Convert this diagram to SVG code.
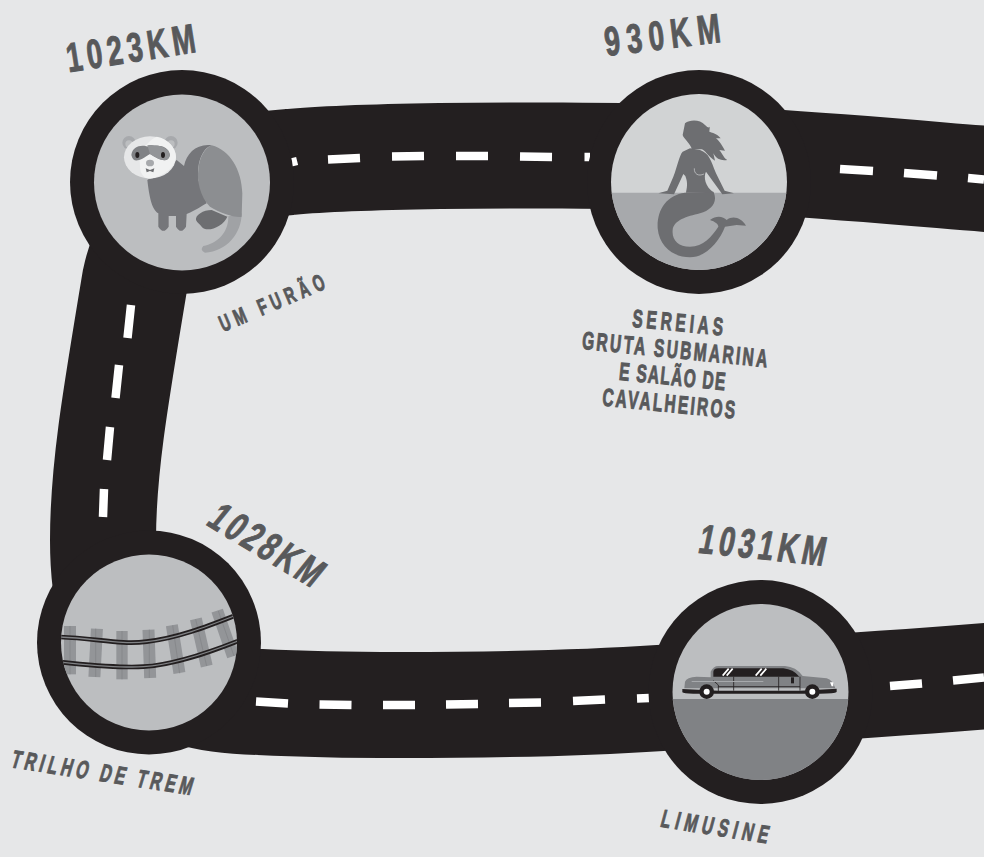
<svg xmlns="http://www.w3.org/2000/svg" width="984" height="857" viewBox="0 0 984 857">
<style>
.road{fill:none;stroke:#231F20;stroke-width:106}
.dash{fill:none;stroke:#fff;stroke-width:8.500}
.ring{fill:#231F20}
.lbl{font-family:"Liberation Sans",Arial,sans-serif;font-weight:700;fill:#58595B;stroke:#58595B;stroke-width:1;text-anchor:middle}
.big{font-size:41px}
.sm{font-size:25px}
</style>
<defs>
<clipPath id="cp-rail"><circle cx="357" cy="337.500" r="264"/></clipPath>
</defs>
<rect width="984" height="857" fill="#E6E7E8"/>
<g id="connectors">
<path class="road" d="M1000,180C900,172 800,163 699,158C620,155 500,155 440,156C380,157 330,158 290,162C200,168 150,210 135,280C115,400 103,470 103,540C103,660 150,700 260,702C320,705 360,705 400,705C500,705 600,702 660,698C760,692 850,687 1000,675"/>
<path class="dash" d="M292,158L294,166M328,159.500L360,158M392,156.500L424,156M456,156L488,156M520,156.500L552,157M584.500,157L590,157M840,169L873,171M904,173L937,175.500M968,178L984,179.500M131,305L127.500,338M119,365L115.500,398M110,427L107,460M104,489L103,517M256,701.500L288,703.500M319.500,704.500L351.500,705M383,705L415,705M446,704.500L478,704M509,703L541,702.500M573,701L605,699.500M637,698.500L649.500,698"/>
<path class="dash" d="M890,686L922,683.500M953,680.500L984,677.500"/>
</g>
<g id="node-ferret">
<circle class="ring" cx="182" cy="182" r="112"/>
<circle cx="182" cy="182.500" r="88" fill="#BCBEC0"/>
<g transform="translate(60,70) scale(.33333)">
<path fill="#A0A2A5" d="M500,440L545,430C545,490 500,545 435,548Q418,540 430,528C470,520 505,490 505,440Z"/>
<path fill="#75767A" d="M262,330C270,400 280,420 295,430L295,470Q310,495 326,470L326,438L348,438L348,470Q363,495 378,470L380,432C410,420 430,405 440,400L415,330C410,270 430,235 455,226C410,220 380,250 372,288L350,270Z"/>
<path fill="#8C8E91" d="M455,226C510,240 545,300 547,370L545,440C530,445 480,430 450,410C420,380 410,330 415,300C418,260 435,235 455,226Z"/>
<path fill="#6D6E71" d="M455,420C430,420 405,435 408,450C412,460 420,462 425,470C440,490 490,470 502,440Z"/>
<circle cx="207" cy="218" r="20" fill="#A7A9AC"/><circle cx="207" cy="222" r="11" fill="#BCBEC0"/>
<circle cx="333" cy="218" r="20" fill="#A7A9AC"/><circle cx="333" cy="222" r="11" fill="#BCBEC0"/>
<ellipse cx="270" cy="262" rx="78" ry="63" fill="#E6E7E8"/>
<path fill="#F1F2F2" d="M290,200C325,205 348,235 348,262C345,290 315,320 270,325C245,310 230,280 245,250C255,225 270,210 290,200Z"/>
<path fill="#808285" d="M214,255C218,228 245,222 270,232C295,222 325,228 330,255C325,280 300,272 270,252C240,272 220,282 214,255Z"/>
<path fill="#939598" d="M262,226C285,222 325,228 330,255C325,280 300,272 270,252Z"/>
<ellipse cx="232" cy="255" rx="6" ry="9" fill="#231F20"/><ellipse cx="309" cy="255" rx="6" ry="9" fill="#231F20"/>
<ellipse cx="270" cy="293" rx="30" ry="33" fill="#F1F2F2"/>
<ellipse cx="270" cy="279" rx="12" ry="10" fill="#A7A9AC"/>
<path fill="#6D6E71" d="M257,295L270,300L283,295L280,307L270,303L260,307Z"/>
</g>
</g>
<g id="node-mermaid">
<circle class="ring" cx="699" cy="182" r="112"/>
<circle cx="699" cy="182" r="88" fill="#D1D3D4"/>
<path fill="#A7A9AC" d="M786.350,192.700A88,88 0 0 1 611.650,192.700Z"/>
<g transform="translate(590,70) scale(.33333)" fill="#6D6E71">
<path d="M285,368C230,375 200,420 203,475C208,530 250,562 300,562C350,562 390,510 405,470L440,465L468,467C455,445 430,435 410,450C400,440 380,435 360,450C375,455 385,462 385,470C365,500 340,530 300,530C265,530 245,510 248,480C252,450 290,440 330,430C365,420 385,395 370,365Z"/>
<path d="M300,235L278,245C268,255 262,290 250,320L232,362L205,370L252,373L280,312L286,318C295,340 290,355 288,368L372,368C345,350 340,320 348,305L397,373L432,370L404,362L378,310C362,270 358,250 330,240Z"/>
<path d="M285,160C300,148 330,148 345,165C355,175 360,175 360,165L358,185C375,190 385,195 392,205L378,205C395,220 400,235 405,242L388,240C400,255 402,265 412,270C395,272 380,270 370,250L375,272C355,260 345,240 335,238L305,238C305,225 280,205 278,195Z"/>
<path d="M313,295C312,312 325,320 342,312" fill="none" stroke="#D1D3D4" stroke-width="2"/>
</g>
</g>
<g id="node-rail">
<circle class="ring" cx="149" cy="642.500" r="112"/>
<circle cx="149" cy="642.500" r="88" fill="#BCBEC0"/>
<g transform="translate(30,530) scale(.33333)" clip-path="url(#cp-rail)">
<g fill="#939598">
<rect x="102" y="288" width="36" height="145"/>
<rect x="179" y="296" width="36" height="145" transform="rotate(3 197 368)"/>
<rect x="259" y="303" width="34" height="145"/>
<rect x="340" y="299" width="36" height="145" transform="rotate(-2 358 372)"/>
<rect x="419" y="285" width="36" height="145" transform="rotate(-9 437 358)"/>
<rect x="496" y="265" width="36" height="145" transform="rotate(-13 514 338)"/>
<rect x="567" y="238" width="36" height="145" transform="rotate(-19 585 310)"/>
</g>
<g fill="none" stroke="#808285" stroke-width="2">
<path d="M120,288V433M197,296V441M276,303V448M358,299V444M428,286L449,430M497,268L530,408M565,243L612,378"/>
</g>
<g fill="none" stroke="#231F20" stroke-width="14">
<path d="M90,321C200,325 270,345 350,335C440,325 530,290 612,258"/>
<path d="M97,397C180,405 270,415 340,410C430,405 530,370 624,333"/>
</g>
<g fill="none" stroke="#808285" stroke-width="4">
<path d="M90,321C200,325 270,345 350,335C440,325 530,290 612,258"/>
<path d="M97,397C180,405 270,415 340,410C430,405 530,370 624,333"/>
</g>
</g>
</g>
<g id="node-limo">
<circle class="ring" cx="760.500" cy="692" r="112"/>
<circle cx="760.500" cy="692" r="88" fill="#BCBEC0"/>
<path fill="#808285" d="M848.220,699A88,88 0 0 1 672.780,699Z"/>
<g transform="translate(650,640) scale(.33333)">
<path fill="#808285" d="M182,112L182,95Q190,78 205,78L405,78Q438,80 458,108L530,115Q548,120 556,145L103,145L105,125Q110,112 140,110Z"/>
<path fill="#231F20" d="M190,110L190,95Q192,85 205,85L400,85Q430,88 448,110Z"/>
<g stroke="#fff" stroke-width="5" fill="none"><path d="M218,107L236,86M230,107L248,86M317,107L335,86M331,107L349,86"/></g>
<g stroke="#231F20" stroke-width="2.500" fill="none"><path d="M190,122L205,135L205,153M205,140L450,140M251,110L251,152M386,110L386,152M450,110L450,152"/></g>
<path fill="#231F20" d="M97,147L205,152L450,152L560,146L560,156Q555,161 510,161L130,161Q100,161 97,157Z"/>
<path fill="#A7A9AC" d="M125,123L340,123L340,126L125,126Z"/>
<path fill="#231F20" d="M423,112L432,112L432,130L423,130Z"/>
<path fill="#fff" d="M540,127L550,127L550,139L545,139Z"/>
<circle cx="170" cy="155" r="22" fill="#231F20"/><circle cx="170" cy="155" r="9" fill="#fff"/>
<circle cx="487" cy="155" r="22" fill="#231F20"/><circle cx="487" cy="155" r="9" fill="#fff"/>
</g>
</g>
<g id="labels">
<text class="lbl big" textLength="191" transform="translate(133,62) rotate(-9) scale(.68,1)">1023KM</text>
<text class="lbl big" textLength="171" transform="translate(664,49) rotate(-7) scale(.68,1)">930KM</text>
<text class="lbl big" textLength="183" transform="translate(258,556) rotate(31) skewX(-8) scale(.68,1)">1028KM</text>
<text class="lbl big" textLength="186" transform="translate(760,559) rotate(6) skewX(-6) scale(.68,1)">1031KM</text>
<text class="lbl sm" style="font-size:23px" textLength="181" transform="translate(275,310) rotate(-23) scale(.62,1)">UM FURÃO</text>
<text class="lbl sm" textLength="147" transform="translate(677,331) rotate(5.500) scale(.62,1)">SEREIAS</text>
<text class="lbl sm" textLength="300" transform="translate(674,358) rotate(5.700) scale(.62,1)">GRUTA SUBMARINA</text>
<text class="lbl sm" textLength="172" transform="translate(671.500,385) rotate(5.700) scale(.62,1)">E SALÃO DE</text>
<text class="lbl sm" textLength="215" transform="translate(668,412) rotate(5.700) scale(.62,1)">CAVALHEIROS</text>
<text class="lbl sm" textLength="295" transform="translate(100,781) rotate(8.800) skewX(-8) scale(.62,1)">TRILHO DE TREM</text>
<text class="lbl sm" textLength="175" transform="translate(713,835) rotate(9) skewX(-6) scale(.62,1)">LIMUSINE</text>
</g>
</svg>
